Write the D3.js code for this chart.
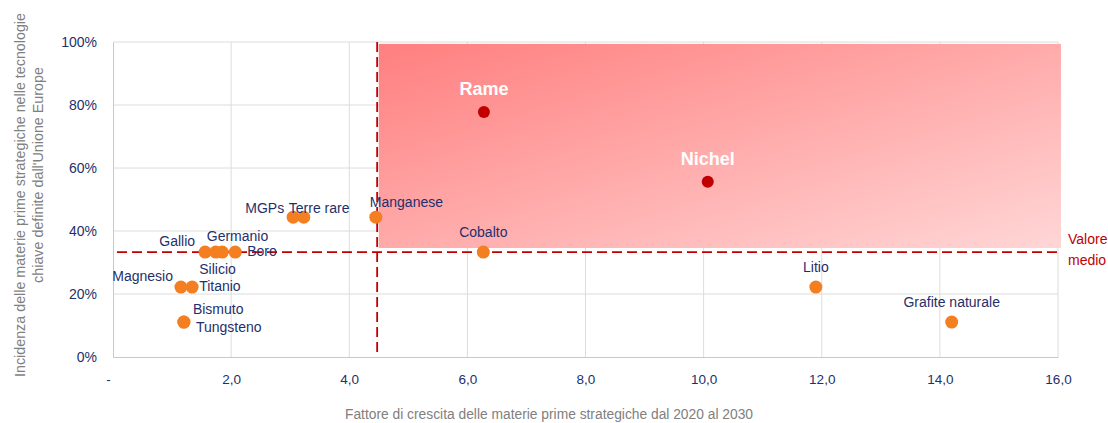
<!DOCTYPE html>
<html>
<head>
<meta charset="utf-8">
<script src="https://cdn.jsdelivr.net/npm/d3@7"></script>
<style>
  html, body { margin: 0; padding: 0; background: #fff; }
  svg { display: block; font-family: "Liberation Sans", Arial, sans-serif; }
</style>
</head>
<body>
<svg id="chart" width="1108" height="423"></svg>
<script>
// Strategic raw materials: growth factor 2020-2030 vs. share in EU key technologies
const materials = ["Rame", "Nichel", "Manganese", "Cobalto", "Litio", "Grafite naturale",
  "MGPs", "Terre rare", "Gallio", "Germanio", "Silicio", "Boro",
  "Magnesio", "Titanio", "Bismuto", "Tungsteno"];
const growthFactor = [6.28, 10.07, 4.45, 6.27, 11.9, 14.2,
  3.05, 3.23, 1.56, 1.74, 1.85, 2.07,
  1.15, 1.34, 1.2, 1.2];
const techShare = [77.8, 55.6, 44.4, 33.3, 22.2, 11.1,
  44.4, 44.4, 33.3, 33.3, 33.3, 33.3,
  22.2, 22.2, 11.1, 11.1];
const highlighted = ["Rame", "Nichel"];

const xTicks = [0, 2, 4, 6, 8, 10, 12, 14, 16];
const yTicks = [0, 20, 40, 60, 80, 100];

// Critical quadrant (above both averages)
const quadrantX = [4.5, 16.05];
const quadrantY = [34.6, 99.4];

// Label placement for each material: [dx, dy, anchor]
const labelPlace = {
  "Rame": [0, -17, "middle"],
  "Nichel": [0, -17, "middle"],
  "Manganese": [-6, -10, "start"],
  "Cobalto": [0, -15, "middle"],
  "Litio": [0, -15, "middle"],
  "Grafite naturale": [0, -15, "middle"],
  "MGPs": [-9, -4, "end"],
  "Terre rare": [-15, -4, "start"],
  "Gallio": [-10, -6, "end"],
  "Germanio": [-9, -11, "start"],
  "Silicio": [-23, 22, "start"],
  "Boro": [12, 4, "start"],
  "Magnesio": [-8, -6, "end"],
  "Titanio": [7, 4, "start"],
  "Bismuto": [9, -8, "start"],
  "Tungsteno": [12, 10, "start"]
};

const svg = d3.select("#chart");
const margin = { left: 113, right: 50, top: 42, bottom: 66 };
const W = 1108, H = 423;

const x = d3.scaleLinear().domain([0, 16]).range([margin.left, W - margin.right]);
const y = d3.scaleLinear().domain([0, 100]).range([H - margin.bottom, margin.top]);

const navy = "#1f2f6b";
const grey = "#808080";
const darkRed = "#c00000";

// Gradient for the critical quadrant
const defs = svg.append("defs");
const grad = defs.append("linearGradient")
  .attr("id", "quadGrad")
  .attr("x1", "0%").attr("y1", "0%").attr("x2", "100%").attr("y2", "100%");
grad.append("stop").attr("offset", "0%").attr("stop-color", "#ff7f7f");
grad.append("stop").attr("offset", "100%").attr("stop-color", "#ffd6d6");

// Gridlines
const grid = svg.append("g").attr("class", "grid");
grid.selectAll("line.v").data(xTicks.filter(d => d > 0)).join("line")
  .attr("x1", d => x(d)).attr("x2", d => x(d))
  .attr("y1", y(100)).attr("y2", y(0))
  .attr("stroke", "#dcdcdc").attr("stroke-width", 1);
grid.selectAll("line.h").data(yTicks.filter(d => d > 0)).join("line")
  .attr("x1", x(0)).attr("x2", x(16))
  .attr("y1", d => y(d)).attr("y2", d => y(d))
  .attr("stroke", "#dcdcdc").attr("stroke-width", 1);

// Critical quadrant
svg.append("rect")
  .attr("x", x(quadrantX[0]))
  .attr("y", y(quadrantY[1]))
  .attr("width", x(quadrantX[1]) - x(quadrantX[0]))
  .attr("height", y(quadrantY[0]) - y(quadrantY[1]))
  .attr("fill", "url(#quadGrad)");

// Axes
const xAxis = d3.axisBottom(x).tickValues(xTicks)
  .tickFormat(d => d === 0 ? "-" : d3.format(".1f")(d).replace(".", ","))
  .tickSize(0).tickPadding(17);
const gx = svg.append("g").attr("transform", `translate(0,${y(0)})`).call(xAxis);
gx.select(".domain").attr("stroke", "#c8c8c8");
gx.selectAll("text").attr("fill", navy).style("font-size", "13.5px")
  .attr("dx", d => d === 0 ? -5 : 0);

const yAxis = d3.axisLeft(y).tickValues(yTicks)
  .tickFormat(d => d + "%").tickSize(0).tickPadding(16);
const gy = svg.append("g").attr("transform", `translate(${x(0)},0)`).call(yAxis);
gy.select(".domain").attr("stroke", "#c8c8c8");
gy.selectAll("text").attr("fill", navy).style("font-size", "14px");

// Average lines
const meanGrowth = d3.mean(growthFactor);
const meanShare = d3.mean(techShare);
svg.append("line")
  .attr("x1", x(0) + 4).attr("x2", x(16))
  .attr("y1", y(meanShare)).attr("y2", y(meanShare))
  .attr("stroke", darkRed).attr("stroke-width", 1.8)
  .attr("stroke-dasharray", "10,5");
svg.append("line")
  .attr("x1", x(meanGrowth)).attr("x2", x(meanGrowth))
  .attr("y1", y(100)).attr("y2", y(0))
  .attr("stroke", darkRed).attr("stroke-width", 1.8)
  .attr("stroke-dasharray", "10,5");

svg.append("text")
  .attr("x", x(16) + 10).attr("y", y(meanShare) - 8)
  .attr("fill", darkRed).style("font-size", "14px")
  .selectAll("tspan").data(["Valore", "medio"]).join("tspan")
  .attr("x", x(16) + 10).attr("dy", (d, i) => i === 0 ? 0 : 21)
  .text(d => d);

// Points
const points = materials.map((m, i) => ({ name: m, gx: growthFactor[i], share: techShare[i] }));
svg.append("g").selectAll("circle").data(points).join("circle")
  .attr("cx", d => x(d.gx)).attr("cy", d => y(d.share))
  .attr("r", d => highlighted.includes(d.name) ? 6 : 6.5)
  .attr("fill", d => highlighted.includes(d.name) ? darkRed : "#f47f20");

// Labels
svg.append("g").selectAll("text").data(points).join("text")
  .attr("x", d => x(d.gx) + labelPlace[d.name][0])
  .attr("y", d => y(d.share) + labelPlace[d.name][1])
  .attr("text-anchor", d => labelPlace[d.name][2])
  .attr("fill", d => highlighted.includes(d.name) ? "#ffffff" : navy)
  .style("font-size", d => highlighted.includes(d.name) ? "18px" : "14px")
  .style("font-weight", d => highlighted.includes(d.name) ? "bold" : "normal")
  .text(d => d.name);

// Axis titles
svg.append("text")
  .attr("x", 549).attr("y", 419)
  .attr("text-anchor", "middle").attr("fill", grey)
  .style("font-size", "13.8px")
  .text("Fattore di crescita delle materie prime strategiche dal 2020 al 2030");

svg.append("text")
  .attr("transform", "translate(25,195) rotate(-90)")
  .attr("text-anchor", "middle").attr("fill", grey)
  .style("font-size", "14.3px")
  .text("Incidenza delle materie prime strategiche nelle tecnologie");
svg.append("text")
  .attr("transform", "translate(43,175) rotate(-90)")
  .attr("text-anchor", "middle").attr("fill", grey)
  .style("font-size", "14.3px")
  .text("chiave  definite dall'Unione Europe");
</script>
</body>
</html>
